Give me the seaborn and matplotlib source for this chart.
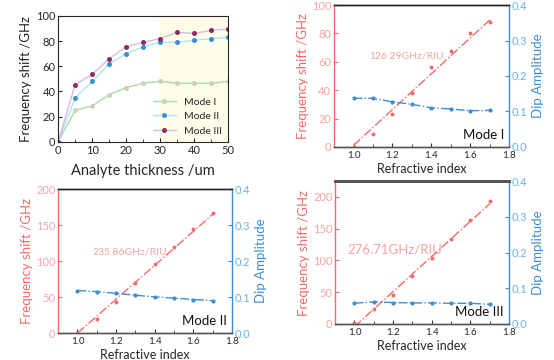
import numpy as np
import pandas as pd
import matplotlib
matplotlib.use("Agg")
import matplotlib.pyplot as plt
from matplotlib.ticker import MultipleLocator
import seaborn as sns

sns.set_style("ticks")
plt.rcParams['font.family'] = ['Lato', 'DejaVu Sans']
plt.rcParams['xtick.direction'] = 'in'
plt.rcParams['ytick.direction'] = 'in'

# panel (a): shift vs analyte thickness
thickness = [0, 5, 10, 15, 20, 25, 30, 35, 40, 45, 50]
mode1 = [0, 25, 28.5, 37.5, 43, 46.5, 48, 46.5, 46.5, 46.5, 48]
mode2 = [0, 35, 48, 62, 70, 75.5, 79, 79, 80.5, 82, 83]
mode3 = [0, 45.5, 53.5, 66, 75.5, 79, 82, 87, 86, 88.5, 89.5]
mode_names = ['Mode I', 'Mode II', 'Mode III']

# panels (b)-(d): shift and dip amplitude vs refractive index
ri = [1.0, 1.1, 1.2, 1.3, 1.4, 1.5, 1.6, 1.7]
shift = {
    'Mode I': [0, 9, 23.5, 38, 56, 67.5, 80, 88],
    'Mode II': [0, 20, 43, 69, 96, 120, 145, 166],
    'Mode III': [2, 24, 46, 75, 104, 134, 163, 193],
}
dip = {
    'Mode I': [0.137, 0.137, 0.127, 0.12, 0.11, 0.107, 0.102, 0.103],
    'Mode II': [0.118, 0.115, 0.11, 0.105, 0.1, 0.097, 0.093, 0.09],
    'Mode III': [0.058, 0.062, 0.06, 0.059, 0.059, 0.058, 0.058, 0.055],
}
sens = {'Mode I': 126.29, 'Mode II': 235.86, 'Mode III': 276.71}

RED = '#f26b6b'
RED_T = '#f5a3a3'
BLUE = '#3d8fd1'
BLUE_T = '#6fb0e3'

fig = plt.figure(figsize=(5.54, 3.6), dpi=100)

# ---- panel (a)
ax = fig.add_axes([0.105, 0.606, 0.307, 0.35])
ax.axvspan(30, 50, color='#fdfdea', zorder=0)
line_cols = ['#a9dba9', '#b3e3f0', '#d4bde3']
mark_cols = ['#cfd0b6', '#3a8fd0', '#8c2b5c']
df = pd.DataFrame({'x': thickness * 3,
                   'y': mode1 + mode2 + mode3,
                   'mode': np.repeat(mode_names, len(thickness))})
for name, lc, mc in zip(mode_names, line_cols, mark_cols):
    sns.lineplot(data=df[df['mode'] == name], x='x', y='y', ax=ax, color=lc,
                 lw=1.0, marker='o', ms=3.6, mfc=mc, mec=mc, mew=0, label=name)
ax.set_xlim(0, 50)
ax.set_ylim(0, 100)
ax.xaxis.set_major_locator(MultipleLocator(10))
ax.xaxis.set_minor_locator(MultipleLocator(5))
ax.yaxis.set_major_locator(MultipleLocator(20))
ax.tick_params(labelsize=8, length=3, pad=2)
ax.tick_params(which='minor', length=2)
ax.set_xlabel('Analyte thickness /um', fontsize=10.5, labelpad=6)
ax.set_ylabel('Frequency shift /GHz', fontsize=9.5, labelpad=3)
for s in ax.spines.values():
    s.set_linewidth(0.8)
ax.legend(loc='lower right', frameon=False, fontsize=7.5, handlelength=2.2,
          borderaxespad=0.2, labelspacing=0.5)

# ---- panels (b)-(d)
boxes = {
    'Mode I': [0.603, 0.592, 0.316, 0.394],
    'Mode II': [0.105, 0.075, 0.314, 0.40],
    'Mode III': [0.605, 0.10, 0.314, 0.397],
}
ylims = {'Mode I': (0, 100), 'Mode II': (0, 200), 'Mode III': (0, 225)}
ysteps = {'Mode I': 20, 'Mode II': 50, 'Mode III': 50}
txt_pos = {'Mode I': (1.27, 64), 'Mode II': (1.27, 112), 'Mode III': (1.21, 117)}
txt_size = {'Mode I': 7.5, 'Mode II': 7.5, 'Mode III': 9.5}

for name in mode_names:
    ax = fig.add_axes(boxes[name])
    ax2 = ax.twinx()
    x = np.array(ri)
    y = np.array(shift[name])
    b = y.mean() - sens[name] * x.mean()
    xf = np.array([1.0, 1.7])
    ax.plot(xf, sens[name] * xf + b, color=RED, lw=1.0, ls='-.', zorder=2)
    sns.scatterplot(x=ri, y=shift[name], ax=ax, color=RED, s=8,
                    linewidth=0, zorder=3)
    sns.lineplot(x=ri, y=dip[name], ax=ax2, color=BLUE, lw=1.0, ls='-.',
                 marker='o', ms=3, mew=0)
    ax.set_xlim(0.9, 1.8)
    ax.set_ylim(*ylims[name])
    ax2.set_ylim(0, 0.4)
    ax.xaxis.set_major_locator(MultipleLocator(0.2))
    ax.xaxis.set_minor_locator(MultipleLocator(0.1))
    ax.yaxis.set_major_locator(MultipleLocator(ysteps[name]))
    ax2.yaxis.set_major_locator(MultipleLocator(0.1))
    ax.tick_params(axis='x', labelsize=7, length=3, pad=3, color='#333333')
    ax.tick_params(axis='x', which='minor', length=2, color='#333333')
    ax.tick_params(axis='y', labelsize=8, length=3, pad=2, colors=RED,
                   labelcolor=RED_T)
    ax2.tick_params(axis='y', labelsize=8, length=3, pad=2, colors=BLUE,
                    labelcolor=BLUE_T)
    ax.set_xlabel('Refractive index', fontsize=9, labelpad=2)
    ax.set_ylabel('Frequency shift /GHz', fontsize=9.5, color=RED, labelpad=2)
    ax2.set_ylabel('Dip Amplitude', fontsize=9.5, color=BLUE, labelpad=3)
    ax.spines['left'].set_color(RED)
    ax.spines['right'].set_visible(False)
    ax2.spines['left'].set_visible(False)
    ax2.spines['right'].set_color(BLUE)
    ax.spines['top'].set_color('#222222')
    ax2.spines['top'].set_color('#222222')
    ax.spines['bottom'].set_color('#555555')
    ax2.spines['bottom'].set_color('#555555')
    for s in list(ax.spines.values()) + list(ax2.spines.values()):
        s.set_linewidth(1.0)
    if name == 'Mode III':
        ax.spines['top'].set_linewidth(2.0)
        ax2.spines['top'].set_linewidth(2.0)
        ax.spines['top'].set_color('#555555')
        ax2.spines['top'].set_color('#555555')
    tx, ty = txt_pos[name]
    ax.text(tx, ty, f'{sens[name]:.2f}GHz/RIU', color=RED_T,
            fontsize=txt_size[name], ha='center', va='center')
    ax.text(0.97, 0.04, name, transform=ax.transAxes, ha='right', va='bottom',
            fontsize=9.5, color='#111111')

fig.savefig('out.png', dpi=100)
